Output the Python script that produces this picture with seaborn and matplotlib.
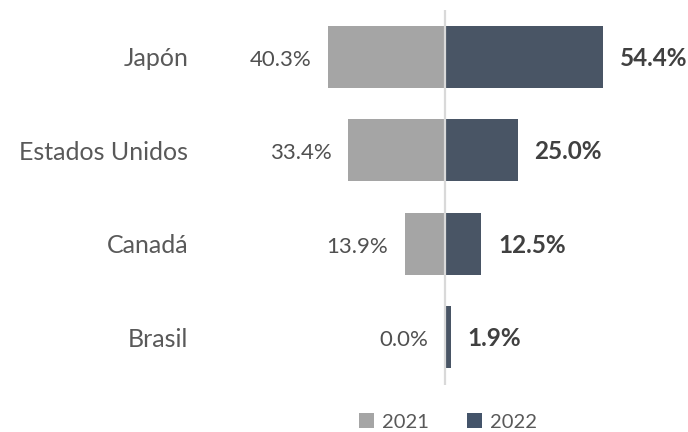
import matplotlib
matplotlib.use("Agg")
import matplotlib.pyplot as plt
import seaborn as sns
import pandas as pd
from matplotlib.patches import Patch

countries = ["Japón", "Estados Unidos", "Canadá", "Brasil"]
values_2021 = [40.3, 33.4, 13.9, 0.0]
values_2022 = [54.4, 25.0, 12.5, 1.9]
years = ["2021", "2022"]

C21 = "#A5A5A5"
C22 = "#44546A"
FONT = "Lato"

sns.set_theme(style="white")
plt.rcParams["font.family"] = [FONT, "DejaVu Sans"]

df = pd.DataFrame({
    "country": countries * 2,
    "year": [years[0]] * len(countries) + [years[1]] * len(countries),
    "value": [-v for v in values_2021] + list(values_2022),
})

W, H = 688, 432
fig = plt.figure(figsize=(W / 100, H / 100), dpi=100)
ax_left, ax_right, ax_top, ax_bot = 206.4, 688.0, 10.0, 385.0
ax = fig.add_axes([ax_left / W, 1 - ax_bot / H, (ax_right - ax_left) / W, (ax_bot - ax_top) / H])

sns.barplot(data=df, x="value", y="country", hue="year", dodge=False,
            palette=[C21, C22], width=0.66, orient="h", ax=ax, legend=False,
            edgecolor="none", linewidth=0)

px = 2.9
ax.set_xlim((ax_left - 445) / px, (ax_right - 445) / px)
ax.set_ylim(3.51, -0.5)
ax.axvline(0, color="#D9D9D9", lw=1.6, zorder=5)

for i, (a, b) in enumerate(zip(values_2021, values_2022)):
    ax.annotate(f"{a:.1f}%", xy=(-a, i), xytext=(-12, -2), textcoords="offset points",
                ha="right", va="center", fontsize=16, color="#505050")
    ax.annotate(f"{b:.1f}%", xy=(b, i), xytext=(12, -1), textcoords="offset points",
                ha="left", va="center", fontsize=17.5, color="#404040", fontweight="bold")

ax.set_xlabel("")
ax.set_ylabel("")
ax.set_xticks([])
ax.tick_params(axis="y", length=0, pad=13, labelsize=18, labelcolor="#595959")
for s in ax.spines.values():
    s.set_visible(False)

handles = [Patch(facecolor=C21, edgecolor="none"), Patch(facecolor=C22, edgecolor="none")]
fig.legend(handles, years, loc="center", bbox_to_anchor=(448 / W, 1 - 422 / H), ncol=2,
           frameon=False, fontsize=14.5, labelcolor="#595959", handlelength=0.75,
           handleheight=0.75, handletextpad=0.4, columnspacing=1.9,
           borderpad=0.1)

fig.savefig("out.png", dpi=100)
